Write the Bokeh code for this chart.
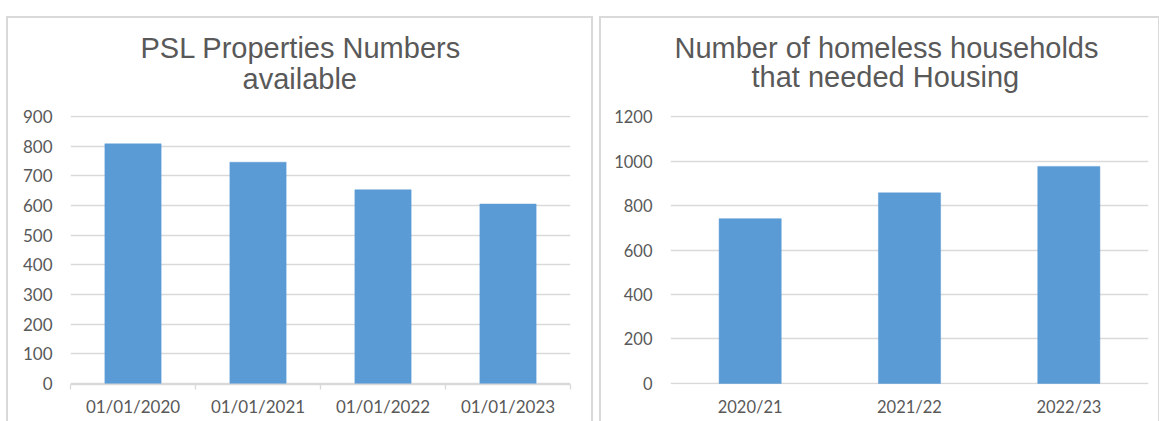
from bokeh.plotting import figure
from bokeh.models import (FactorRange, Range1d, LinearAxis, CategoricalAxis,
                          FixedTicker, Title)
from bokeh.layouts import row
from bokeh.embed import file_html
from bokeh.resources import INLINE

# ---------------- data ----------------
psl_title = ["PSL Properties Numbers", "available"]
psl_dates = ["01/01/2020", "01/01/2021", "01/01/2022", "01/01/2023"]
psl_values = [808, 746, 653, 605]
psl_yticks = [0, 100, 200, 300, 400, 500, 600, 700, 800, 900]

hh_title = ["Number of homeless households", "that needed Housing"]
hh_years = ["2020/21", "2021/22", "2022/23"]
hh_values = [741, 857, 976]
hh_yticks = [0, 200, 400, 600, 800, 1000, 1200]

BAR = "#5b9bd5"
TXT = "#595959"
GRID = "#d9d9d9"
BORDER = "#d9d9d9"


def title_line(text, offset, standoff):
    return Title(text=text, align="left", text_font="Liberation Sans",
                 text_font_size="29px", text_font_style="normal",
                 text_color=TXT, standoff=standoff, offset=offset)


def make_chart(title_lines, cats, vals, yticks, width, height, mb, bar_w,
               tick_size, title_offsets, title_standoffs, boundary_ticks,
               xlab_standoff):
    span = yticks[-1] - yticks[0]
    pad = span * 0.004
    p = figure(x_range=FactorRange(*cats),
               y_range=Range1d(yticks[0] - pad, yticks[-1] + pad),
               width=width, height=height, output_backend="svg",
               toolbar_location=None, x_axis_location=None,
               min_border_left=mb[0], min_border_right=mb[1],
               min_border_top=mb[2], min_border_bottom=mb[3])
    p.outline_line_color = None
    p.background_fill_color = "white"
    p.border_fill_color = "white"
    p.xgrid.visible = False
    p.ygrid.grid_line_color = GRID
    p.ygrid.grid_line_width = 1.3

    ya = p.yaxis[0]
    ya.ticker = FixedTicker(ticks=yticks)
    ya.axis_line_color = None
    ya.major_tick_line_color = None
    ya.minor_tick_line_color = None
    ya.major_tick_out = 0
    ya.major_tick_in = 0
    ya.major_label_standoff = 18
    ya.major_label_text_font = "Lato"
    ya.major_label_text_font_size = tick_size
    ya.major_label_text_color = TXT

    if boundary_ticks:
        bt = list(range(len(cats) + 1))
        ta = LinearAxis(ticker=FixedTicker(ticks=bt),
                        major_label_overrides={t: "" for t in bt},
                        axis_line_color=GRID, axis_line_width=1.3,
                        major_tick_line_color=GRID, major_tick_line_width=1.3,
                        major_tick_in=0, major_tick_out=5,
                        minor_tick_line_color=None, major_label_standoff=0)
        p.add_layout(ta, "below")

    xa = CategoricalAxis(axis_line_color=None, major_tick_line_color=None,
                         major_tick_out=0, major_tick_in=0,
                         major_label_standoff=xlab_standoff,
                         major_label_text_font="Lato",
                         major_label_text_font_size=tick_size,
                         major_label_text_color=TXT)
    p.add_layout(xa, "below")

    p.vbar(x=cats, top=vals, bottom=0, width=bar_w,
           fill_color=BAR, line_color=BAR, line_width=0.5)

    # spacer between plot area and title, then line 2, then line 1 on top
    s0, s2, s1 = title_standoffs
    p.add_layout(title_line(" ", 0, s0), "above")
    p.add_layout(title_line(title_lines[1], title_offsets[1], s2), "above")
    p.add_layout(title_line(title_lines[0], title_offsets[0], s1), "above")
    return p


p1 = make_chart(psl_title, psl_dates, psl_values, psl_yticks,
                width=583, height=403, mb=(62, 21, 97, 37), bar_w=0.45,
                tick_size="17px", title_offsets=(70, 172),
                title_standoffs=(-13.5, 0, -7),
                boundary_ticks=True, xlab_standoff=6)
p1.margin = (18, 0, 0, 8)
p1.styles = {"outline": "2px solid " + BORDER}

p2 = make_chart(hh_title, hh_years, hh_values, hh_yticks,
                width=557, height=403, mb=(69, 10, 95, 35), bar_w=0.39,
                tick_size="16.5px", title_offsets=(4, 81),
                title_standoffs=(-11.5, 0, -11),
                boundary_ticks=False, xlab_standoff=12)
p2.margin = (18, 0, 0, 10)
p2.styles = {"outline": "2px solid " + BORDER}

layout = row(p1, p2)
open("out.html", "w").write(file_html(layout, INLINE))
